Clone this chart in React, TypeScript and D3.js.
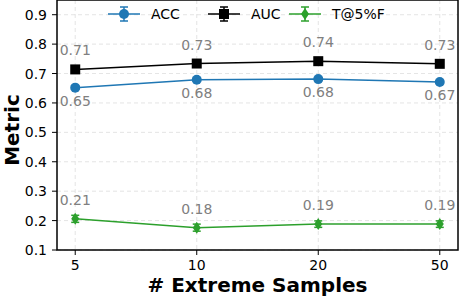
import React from "react";
import * as d3 from "d3";

const categories = ["5", "10", "20", "50"];
const accValues = [0.652, 0.679, 0.681, 0.671];
const aucValues = [0.714, 0.734, 0.742, 0.733];
const tprValues = [0.206, 0.176, 0.188, 0.188];
const accErr = [0.004, 0.005, 0.005, 0.005];
const aucErr = [0.003, 0.004, 0.004, 0.004];
const tprErr = [0.012, 0.012, 0.011, 0.011];
const yTicks = [0.1, 0.2, 0.3, 0.4, 0.5, 0.6, 0.7, 0.8, 0.9];
const seriesNames = ["ACC", "AUC", "T@5%F"];

const W = 459, H = 298;
const M = { left: 57, right: 1, top: 0, bottom: 48 };

export default function App() {
  const x = d3.scaleLinear().domain([-0.15, 3.15]).range([M.left, W - M.right]);
  const y = d3.scaleLinear().domain([0.1, 0.95]).range([H - M.bottom, M.top]);
  const line = d3.line<number>().x((_, i) => x(i)).y((d) => y(d));
  const font = "DejaVu Sans, sans-serif";

  const series = [
    { name: seriesNames[0], vals: accValues, err: accErr, color: "#1f77b4", marker: "circle", labelPos: "below" },
    { name: seriesNames[1], vals: aucValues, err: aucErr, color: "#000000", marker: "square", labelPos: "above" },
    { name: seriesNames[2], vals: tprValues, err: tprErr, color: "#2ca02c", marker: "diamond", labelPos: "above" },
  ];

  const marker = (type: string, cx: number, cy: number, color: string, key?: any) => {
    if (type === "circle") return <circle key={key} cx={cx} cy={cy} r={5} fill={color} />;
    if (type === "square") return <rect key={key} x={cx - 5} y={cy - 5} width={10} height={10} fill={color} />;
    return <path key={key} d={`M${cx},${cy - 6}L${cx + 4},${cy}L${cx},${cy + 6}L${cx - 4},${cy}Z`} fill={color} />;
  };

  const legendX = [108, 208, 289];

  return (
    <svg width={W} height={H} style={{ position: "absolute", left: 0, top: 0, background: "#fff" }}>
      {/* grid */}
      {yTicks.map((t) => (
        <line key={"gy" + t} x1={M.left} x2={W - M.right} y1={y(t)} y2={y(t)} stroke="#dddddd" strokeDasharray="4,3" strokeWidth={0.8} />
      ))}
      {categories.map((c, i) => (
        <line key={"gx" + c} x1={x(i)} x2={x(i)} y1={M.top} y2={H - M.bottom} stroke="#dddddd" strokeDasharray="4,3" strokeWidth={0.8} />
      ))}
      {/* series */}
      {series.map((s) => (
        <g key={s.name}>
          <path d={line(s.vals) || ""} fill="none" stroke={s.color} strokeWidth={1.5} />
          {s.vals.map((v, i) => (
            <g key={i}>
              <line x1={x(i)} x2={x(i)} y1={y(v - s.err[i])} y2={y(v + s.err[i])} stroke={s.color} strokeWidth={1.5} />
              <line x1={x(i) - 4} x2={x(i) + 4} y1={y(v - s.err[i])} y2={y(v - s.err[i])} stroke={s.color} strokeWidth={1.5} />
              <line x1={x(i) - 4} x2={x(i) + 4} y1={y(v + s.err[i])} y2={y(v + s.err[i])} stroke={s.color} strokeWidth={1.5} />
              {marker(s.marker, x(i), y(v), s.color)}
              <text
                x={x(i)}
                y={s.labelPos === "above" ? y(v) - 14 : y(v) + 18}
                textAnchor="middle"
                fontFamily={font}
                fontSize={14}
                fill="#808080"
              >
                {v.toFixed(2)}
              </text>
            </g>
          ))}
        </g>
      ))}
      {/* frame */}
      <rect x={M.left} y={M.top} width={W - M.left - M.right} height={H - M.top - M.bottom} fill="none" stroke="#000" strokeWidth={1.5} />
      {/* y ticks */}
      {yTicks.map((t) => (
        <g key={"yt" + t}>
          <line x1={M.left - 5} x2={M.left} y1={y(t)} y2={y(t)} stroke="#000" strokeWidth={1} />
          <text x={M.left - 10} y={y(t)} dy="0.36em" textAnchor="end" fontFamily={font} fontSize={14} fill="#000">
            {t.toFixed(1)}
          </text>
        </g>
      ))}
      {/* x ticks */}
      {categories.map((c, i) => (
        <g key={"xt" + c}>
          <line x1={x(i)} x2={x(i)} y1={H - M.bottom} y2={H - M.bottom + 5} stroke="#000" strokeWidth={1} />
          <text x={x(i)} y={H - M.bottom + 20} textAnchor="middle" fontFamily={font} fontSize={14} fill="#000">
            {c}
          </text>
        </g>
      ))}
      {/* axis labels */}
      <text x={(M.left + W - M.right) / 2} y={292} textAnchor="middle" fontFamily={font} fontSize={20} fontWeight="bold">
        # Extreme Samples
      </text>
      <text transform={`translate(19,${(M.top + H - M.bottom) / 2 + 5}) rotate(-90)`} textAnchor="middle" fontFamily={font} fontSize={20} fontWeight="bold">
        Metric
      </text>
      {/* legend */}
      {series.map((s, k) => {
        const lx = legendX[k];
        const ly = 14;
        return (
          <g key={"lg" + s.name}>
            <line x1={lx} x2={lx + 32} y1={ly} y2={ly} stroke={s.color} strokeWidth={1.5} />
            <line x1={lx + 16} x2={lx + 16} y1={ly - 7} y2={ly + 7} stroke={s.color} strokeWidth={1.5} />
            <line x1={lx + 12} x2={lx + 20} y1={ly - 7} y2={ly - 7} stroke={s.color} strokeWidth={1.5} />
            <line x1={lx + 12} x2={lx + 20} y1={ly + 7} y2={ly + 7} stroke={s.color} strokeWidth={1.5} />
            {marker(s.marker, lx + 16, ly, s.color)}
            <text x={lx + 43} y={ly} dy="0.36em" fontFamily={font} fontSize={14} fill="#000">
              {s.name}
            </text>
          </g>
        );
      })}
    </svg>
  );
}
